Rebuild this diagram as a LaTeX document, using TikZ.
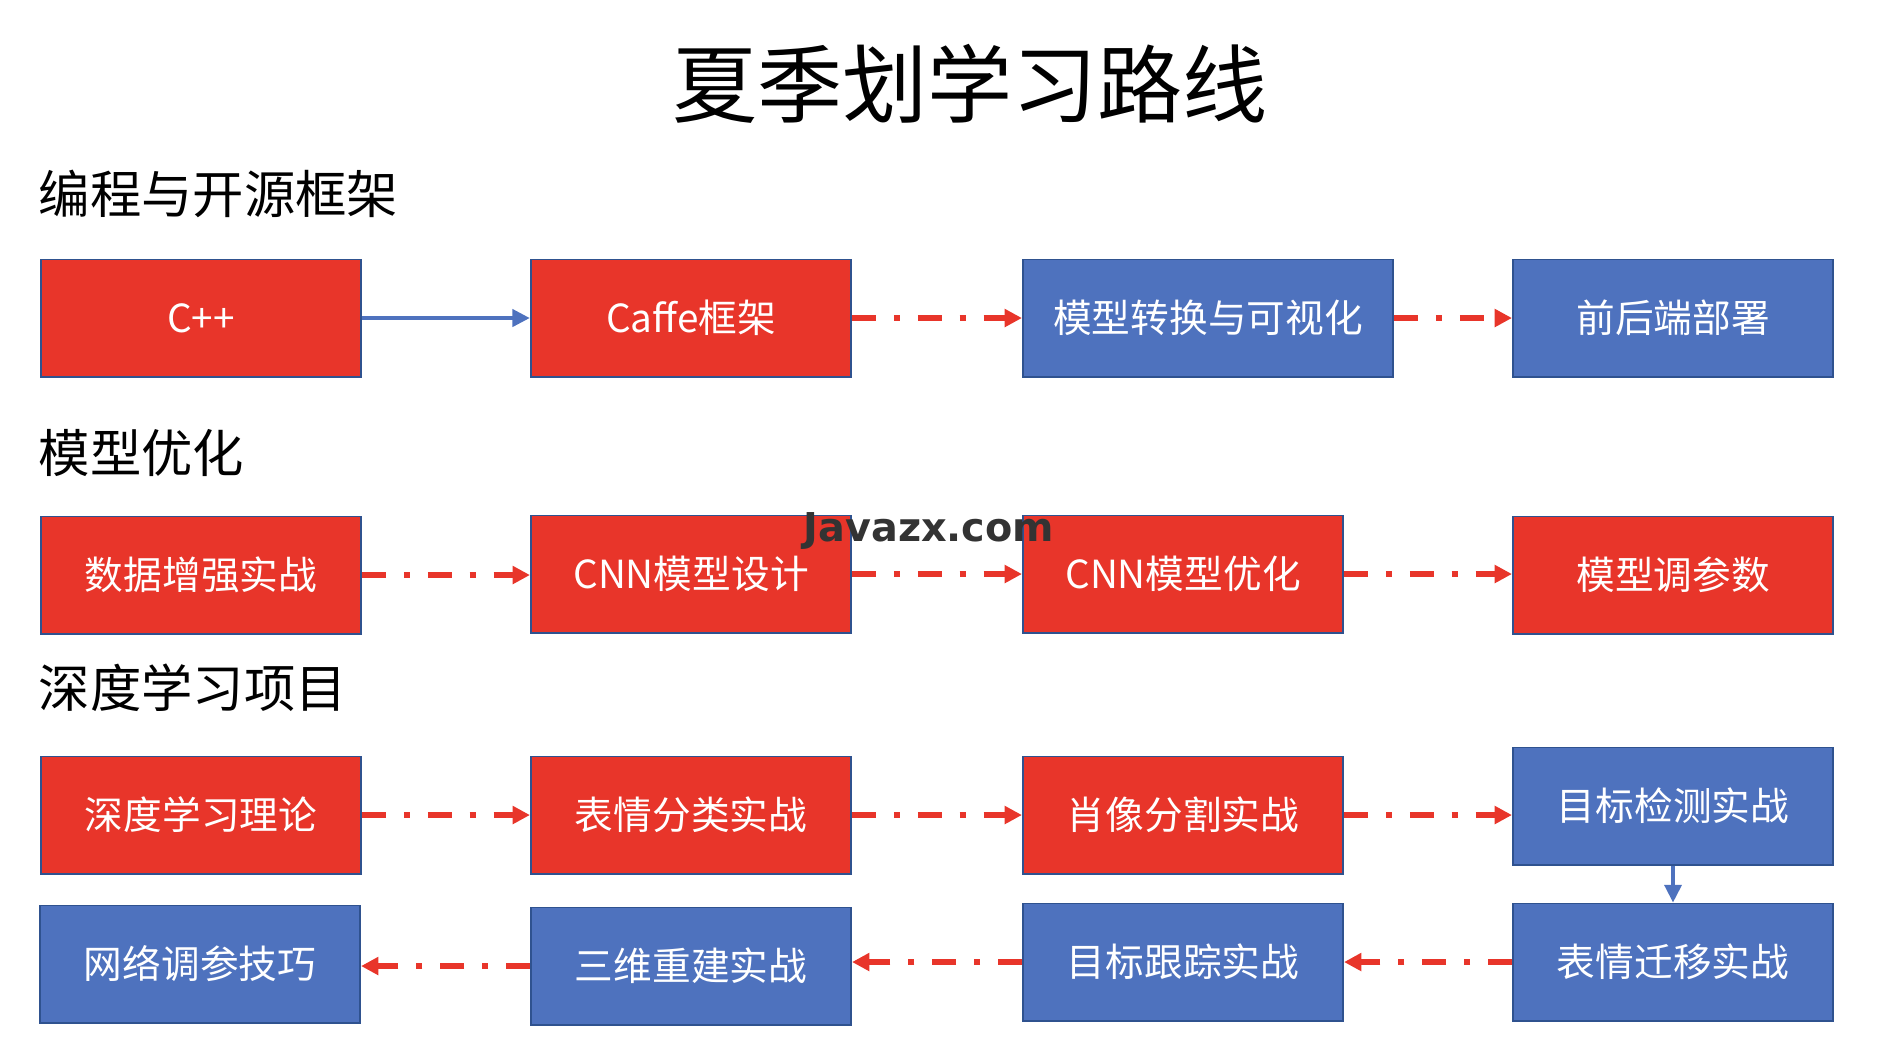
\documentclass[tikz,border=0pt]{standalone}
\usepackage{fontspec}
\setmainfont{Noto Sans CJK SC}
\newfontfamily\wmfont{DejaVu Sans}
\usetikzlibrary{arrows.meta}
\definecolor{boxred}{HTML}{E8352A}
\definecolor{boxblue}{HTML}{4E72BE}
\definecolor{edgeblue}{HTML}{2F528F}
\definecolor{wmgray}{HTML}{333333}

\begin{document}
\begin{tikzpicture}[x=0.01cm, y=-0.01cm,
  box/.style={draw=edgeblue, line width=0.55pt, minimum width=3.2cm, minimum height=1.17cm,
    inner sep=0pt, text=white, font=\fontsize{11}{13}\selectfont},
  redbox/.style={box, fill=boxred},
  bluebox/.style={box, fill=boxblue},
  heading/.style={anchor=west, inner sep=0pt, font=\fontsize{14.6}{17}\selectfont},
  dashflow/.style={draw=boxred, line width=1.7pt, dash pattern=on 6.8pt off 5.1pt on 1.7pt off 5.1pt,
    -{Triangle[length=4.9pt,width=4.9pt]}},
  solidflow/.style={draw=boxblue, line width=1.3pt, -{Triangle[length=5pt,width=4.8pt]}}]
  \useasboundingbox (0,0) rectangle (1880,1062);

  % title and section headings
  \node[font=\fontsize{24.2}{28}\selectfont] (title) at (970,84) {夏季划学习路线};
  \node[heading] (sec1) at (38,194) {编程与开源框架};
  \node[heading] (sec2) at (38,453) {模型优化};
  \node[heading] (sec3) at (38,688) {深度学习项目};

  % row 1
  \node[redbox] (cpp) at (201,318) {C++};
  \node[redbox] (caffe) at (691,318) {Caffe框架};
  \node[bluebox, minimum width=3.7cm] (convert) at (1208,318) {模型转换与可视化};
  \node[bluebox] (deploy) at (1673,318) {前后端部署};

  % row 2
  \node[redbox] (aug) at (201,575) {数据增强实战};
  \node[redbox] (design) at (691,574) {CNN模型设计};
  \node[redbox] (optim) at (1183,574) {CNN模型优化};
  \node[redbox] (tune) at (1673,575) {模型调参数};

  % row 3
  \node[redbox] (theory) at (201,815) {深度学习理论};
  \node[redbox] (expr) at (691,815) {表情分类实战};
  \node[redbox] (portrait) at (1183,815) {肖像分割实战};
  \node[bluebox] (detect) at (1673,806) {目标检测实战};

  % row 4
  \node[bluebox] (netune) at (200,964) {网络调参技巧};
  \node[bluebox] (recon) at (691,966) {三维重建实战};
  \node[bluebox] (track) at (1183,962) {目标跟踪实战};
  \node[bluebox] (transfer) at (1673,962) {表情迁移实战};

  \draw[solidflow] (cpp) -- (caffe);
  \foreach \a/\b in {caffe/convert, convert/deploy, aug/design, design/optim, optim/tune,
                     theory/expr, expr/portrait}
    \draw[dashflow] (\a.east) -- (\a.east -| \b.west);
  \draw[dashflow] (portrait.east) -- (portrait.east -| detect.west);
  \draw[solidflow, line width=1pt] (detect.south) -- (transfer.north);
  \foreach \a/\b in {transfer/track, track/recon, recon/netune}
    \draw[dashflow] (\a.west) -- (\a.west -| \b.east);

  % watermark
  \node[text=wmgray, font=\wmfont\bfseries\fontsize{11.3}{13}\selectfont] (wm) at (929,531) {Javazx.com};
\end{tikzpicture}
\end{document}
